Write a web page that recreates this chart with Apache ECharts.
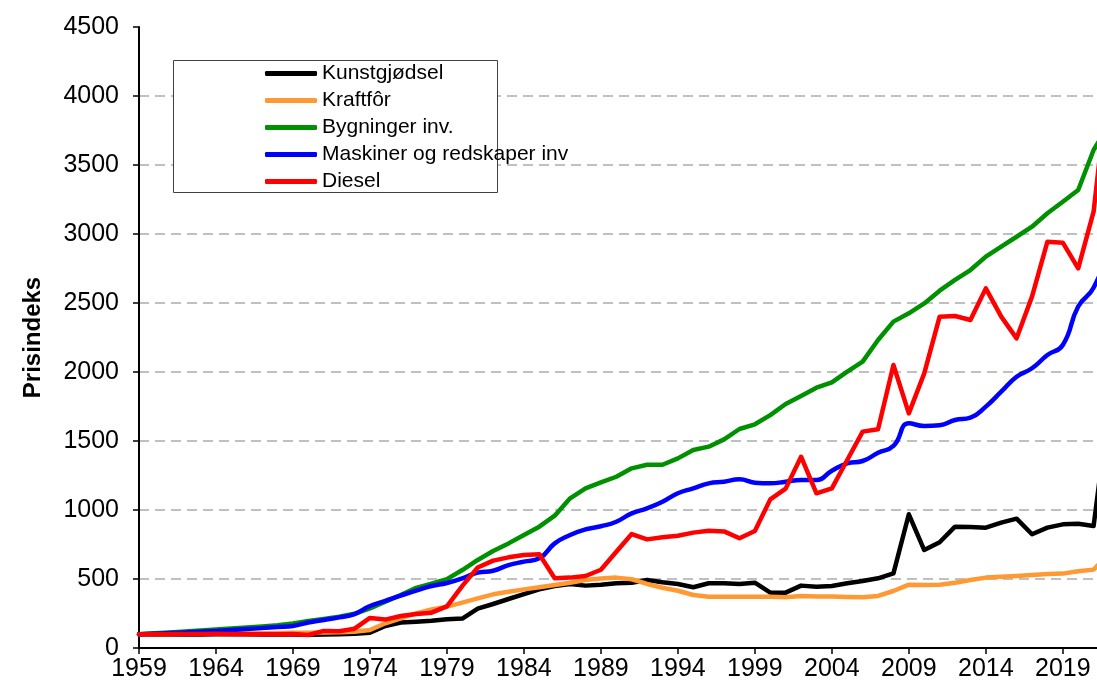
<!DOCTYPE html>
<html>
<head>
<meta charset="utf-8">
<script src="https://cdn.jsdelivr.net/npm/echarts@6/dist/echarts.min.js"></script>
<style>
html,body{margin:0;padding:0;background:#fff;overflow:hidden;width:1097px;height:690px;}
#chart{width:1109px;height:690px;}
</style>
</head>
<body>
<div id="chart"></div>
<script>
const years = [];
for (let y = 1959; y <= 2022; y++) years.push(String(y));

const kunstgjodsel = [
  100, 98, 97, 97, 98, 100, 100, 100, 98, 97,
  98, 96, 97, 100, 103, 111, 159, 185, 190, 197,
  209, 213, 285, 319, 355, 391, 425, 449, 464, 452,
  459, 469, 473, 493, 476, 464, 440, 469, 469, 464,
  473, 401, 401, 452, 444, 449, 469, 485, 505, 541,
  969, 710, 766, 879, 877, 872, 908, 937, 824, 872,
  896, 901, 884, 1750
];
const kraftfor = [
  100, 101, 102, 103, 104, 105, 106, 107, 107, 108,
  110, 111, 112, 114, 118, 130, 179, 215, 251, 280,
  300, 329, 360, 389, 408, 425, 440, 457, 473, 493,
  503, 510, 498, 464, 437, 415, 384, 372, 372, 372,
  372, 372, 367, 377, 374, 374, 370, 367, 377, 413,
  459, 457, 459, 473, 493, 510, 517, 522, 529, 536,
  539, 556, 568, 680
];
const bygninger = [
  100, 107, 113, 120, 127, 134, 141, 148, 156, 165,
  178, 195, 210, 227, 248, 287, 336, 384, 436, 467,
  499, 565, 638, 703, 758, 819, 879, 959, 1085, 1157,
  1200, 1241, 1302, 1328, 1328, 1374, 1435, 1459, 1512, 1587,
  1621, 1688, 1768, 1826, 1886, 1925, 2003, 2075, 2232, 2365,
  2425, 2497, 2589, 2667, 2739, 2836, 2908, 2980, 3053, 3150,
  3234, 3319, 3609, 3790
];
const maskiner = [
  100, 104, 108, 113, 118, 124, 130, 137, 144, 152,
  160, 185, 203, 222, 246, 304, 342, 380, 416, 449,
  471, 505, 546, 560, 601, 626, 650, 758, 819, 860,
  882, 915, 976, 1012, 1060, 1121, 1157, 1193, 1205, 1222,
  1198, 1193, 1205, 1217, 1217, 1285, 1338, 1355, 1415, 1464,
  1628, 1609, 1614, 1652, 1669, 1749, 1857, 1966, 2027, 2123,
  2196, 2475, 2610, 2900
];
const diesel = [
  100, 100, 101, 101, 102, 103, 102, 100, 99, 100,
  101, 94, 124, 122, 140, 218, 206, 232, 246, 256,
  302, 450, 583, 633, 657, 674, 679, 505, 510, 522,
  567, 698, 826, 787, 802, 814, 836, 850, 845, 795,
  848, 1077, 1155, 1386, 1121, 1157, 1362, 1568, 1585, 2051,
  1700, 1990, 2401, 2406, 2377, 2606, 2401, 2244, 2546, 2944,
  2937, 2751, 3162, 4150
];
const seriesNames = ['Kunstgjødsel', 'Kraftfôr', 'Bygninger inv.', 'Maskiner og redskaper inv', 'Diesel'];
const seriesData = [kunstgjodsel, kraftfor, bygninger, maskiner, diesel];
const seriesColors = ['#000000', '#FF9933', '#009100', '#0000FF', '#FF0000'];
const seriesSmooth = [false, false, false, true, false];

const FONT = '"Liberation Sans", Arial, sans-serif';
const chart = echarts.init(document.getElementById('chart'), null, {renderer: 'canvas', width: 1109, height: 690});

chart.setOption({
  animation: false,
  backgroundColor: '#ffffff',
  textStyle: {fontFamily: FONT},
  grid: {left: 139, top: 27, right: 0, bottom: 42, containLabel: false},
  graphic: [{
    type: 'rect', z: 1,
    shape: {x: 173.5, y: 60.5, width: 324, height: 132},
    style: {fill: '#ffffff', stroke: '#404040', lineWidth: 1}
  }],
  legend: {
    orient: 'vertical', left: 265, top: 63, padding: 0, itemGap: 6,
    itemWidth: 52, itemHeight: 5, itemStyle: {borderWidth: 0},
    icon: 'roundRect',
    textStyle: {fontFamily: FONT, fontSize: 21, color: '#000', padding: [0, 0, 0, 0]},
    data: seriesNames
  },
  xAxis: {
    type: 'category', data: years, boundaryGap: false,
    axisLine: {lineStyle: {color: '#000', width: 2}},
    axisTick: {interval: 4, length: 6, lineStyle: {color: '#000', width: 1.5}},
    axisLabel: {interval: 4, margin: 9, fontFamily: FONT, fontSize: 25, color: '#000'},
    splitLine: {show: false}
  },
  yAxis: {
    type: 'value', min: 0, max: 4500, interval: 500,
    name: 'Prisindeks', nameLocation: 'middle', nameGap: 94,
    nameTextStyle: {fontFamily: FONT, fontSize: 24, fontWeight: 'bold', color: '#000'},
    axisLine: {show: true, lineStyle: {color: '#000', width: 2}},
    axisTick: {show: true, length: 6, lineStyle: {color: '#000', width: 1.5}},
    axisLabel: {margin: 20, fontFamily: FONT, fontSize: 25, color: '#000', formatter: v => String(v)},
    splitLine: {show: true, showMaxLine: false, lineStyle: {color: '#C0C0C0', width: 2, type: [10, 6]}}
  },
  series: seriesNames.map((n, i) => ({
    name: n, type: 'line', data: seriesData[i], smooth: seriesSmooth[i],
    symbol: 'none', color: seriesColors[i],
    lineStyle: {width: 4.5, color: seriesColors[i], cap: 'round', join: 'round'}
  }))
});
</script>
</body>
</html>
